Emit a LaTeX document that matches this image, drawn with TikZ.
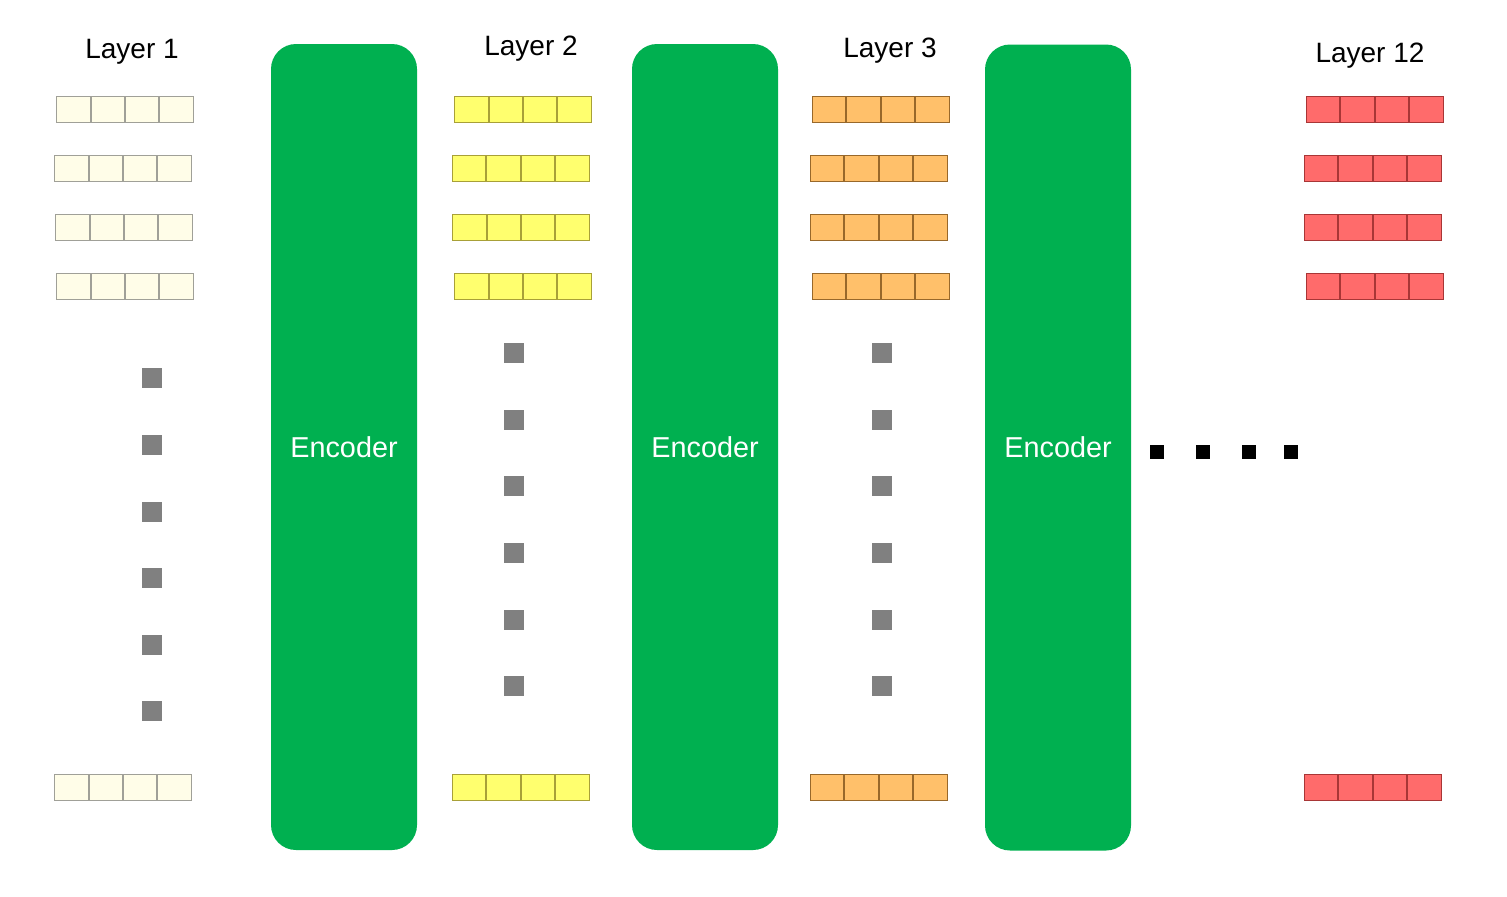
\documentclass[tikz,border=0pt]{standalone}
\usepackage{fontspec}
\setmainfont{Liberation Sans}
\usepackage{tikz}

\definecolor{encgreen}{HTML}{00B050}
\definecolor{creamfill}{HTML}{FFFDE8}
\definecolor{creamline}{HTML}{A0A098}
\definecolor{yellowfill}{HTML}{FFFF6E}
\definecolor{yellowline}{HTML}{A8A038}
\definecolor{orangefill}{HTML}{FFC06A}
\definecolor{orangeline}{HTML}{98682A}
\definecolor{redfill}{HTML}{FF6B6B}
\definecolor{redline}{HTML}{A83636}

\tikzset{
    vecrow/.style 2 args={rectangle, minimum width=68.5pt, minimum height=13pt, inner sep=0pt,
        fill=#1, draw=#2, line width=0.5pt,
        path picture={
            \draw[#2, line width=1pt] ([xshift=17.125pt]path picture bounding box.south west) -- ([xshift=17.125pt]path picture bounding box.north west);
            \draw[#2, line width=1pt] ([xshift=34.25pt]path picture bounding box.south west) -- ([xshift=34.25pt]path picture bounding box.north west);
            \draw[#2, line width=1pt] ([xshift=51.375pt]path picture bounding box.south west) -- ([xshift=51.375pt]path picture bounding box.north west);
        }},
    encoder/.style={rectangle, rounded corners=12.5pt, fill=encgreen, minimum width=73pt, minimum height=403pt,
        inner sep=0pt, text=white, font=\fontsize{14.4}{17}\selectfont},
    layername/.style={inner sep=0pt, font=\fontsize{14}{17}\selectfont},
    graydot/.style={rectangle, fill=gray, minimum size=10pt, inner sep=0pt},
    blackdot/.style={rectangle, fill=black, minimum size=7pt, inner sep=0pt}
}

\begin{document}
\begin{tikzpicture}[x=0.5pt, y=-0.5pt]
        \useasboundingbox (0,0) rectangle (1507,896);

        % layer titles
        \node[layername] (t1) at (132, 52) {Layer 1};
        \node[layername] (t2) at (531, 49) {Layer 2};
        \node[layername] (t3) at (890, 51) {Layer 3};
        \node[layername] (t12) at (1370, 56) {Layer 12};

        % encoders
        \node[encoder] (e1) at (344, 447) {Encoder};
        \node[encoder] (e2) at (705, 447) {Encoder};
        \node[encoder] (e3) at (1058, 447.5) {Encoder};

        % layer 1
        \node[vecrow={creamfill}{creamline}] (a1) at (125, 109) {};
        \node[vecrow={creamfill}{creamline}] (a2) at (123, 168) {};
        \node[vecrow={creamfill}{creamline}] (a3) at (124, 227) {};
        \node[vecrow={creamfill}{creamline}] (a4) at (125, 286) {};
        \node[vecrow={creamfill}{creamline}] (an) at (123, 787) {};

        % layer 2
        \node[vecrow={yellowfill}{yellowline}] (b1) at (523, 109) {};
        \node[vecrow={yellowfill}{yellowline}] (b2) at (520.5, 168) {};
        \node[vecrow={yellowfill}{yellowline}] (b3) at (521, 227) {};
        \node[vecrow={yellowfill}{yellowline}] (b4) at (523, 286) {};
        \node[vecrow={yellowfill}{yellowline}] (bn) at (520.5, 787) {};

        % layer 3
        \node[vecrow={orangefill}{orangeline}] (c1) at (880.5, 109) {};
        \node[vecrow={orangefill}{orangeline}] (c2) at (878.5, 168) {};
        \node[vecrow={orangefill}{orangeline}] (c3) at (878.5, 227) {};
        \node[vecrow={orangefill}{orangeline}] (c4) at (880.5, 286) {};
        \node[vecrow={orangefill}{orangeline}] (cn) at (878.5, 787) {};

        % layer 12
        \node[vecrow={redfill}{redline}] (d1) at (1374.5, 109) {};
        \node[vecrow={redfill}{redline}] (d2) at (1372.5, 168) {};
        \node[vecrow={redfill}{redline}] (d3) at (1372.5, 227) {};
        \node[vecrow={redfill}{redline}] (d4) at (1374.5, 286) {};
        \node[vecrow={redfill}{redline}] (dn) at (1372.5, 787) {};

        % vertical dots
        \node[graydot] (ga1) at (152, 378) {};
        \node[graydot] (ga2) at (152, 445) {};
        \node[graydot] (ga3) at (152, 511.5) {};
        \node[graydot] (ga4) at (152, 578) {};
        \node[graydot] (ga5) at (152, 645) {};
        \node[graydot] (ga6) at (152, 711) {};

        \node[graydot] (gb1) at (513.5, 353) {};
        \node[graydot] (gb2) at (513.5, 420) {};
        \node[graydot] (gb3) at (513.5, 486) {};
        \node[graydot] (gb4) at (513.5, 553) {};
        \node[graydot] (gb5) at (513.5, 620) {};
        \node[graydot] (gb6) at (513.5, 686) {};

        \node[graydot] (gc1) at (882, 353) {};
        \node[graydot] (gc2) at (882, 420) {};
        \node[graydot] (gc3) at (882, 486) {};
        \node[graydot] (gc4) at (882, 553) {};
        \node[graydot] (gc5) at (882, 620) {};
        \node[graydot] (gc6) at (882, 686) {};

        % horizontal dots
        \node[blackdot] (h1) at (1157, 452) {};
        \node[blackdot] (h2) at (1203, 452) {};
        \node[blackdot] (h3) at (1249, 452) {};
        \node[blackdot] (h4) at (1291, 452) {};
    \end{tikzpicture}
\end{document}
